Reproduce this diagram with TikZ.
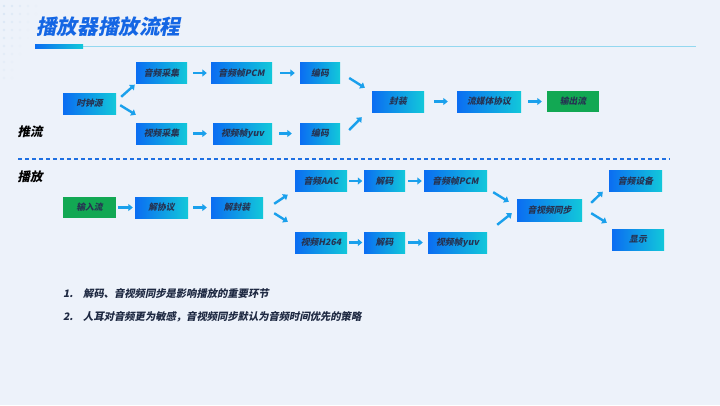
\documentclass[tikz,border=0pt]{standalone}
\usepackage{fontspec}
\setmainfont{Noto Sans CJK SC}[FakeSlant=0.2]
\usetikzlibrary{arrows.meta}
\definecolor{bg}{HTML}{EDF2FA}
\definecolor{bleft}{HTML}{0B6DF2}
\definecolor{bright}{HTML}{12C8DA}
\definecolor{gbox}{HTML}{12A853}
\definecolor{txt}{HTML}{263352}
\definecolor{titlec}{HTML}{1466E4}
\definecolor{arrc}{HTML}{1AA0EC}
\definecolor{dashc}{HTML}{1F70E2}
\definecolor{thinc}{HTML}{93D8F0}
\definecolor{dotc}{HTML}{D9E6F5}
\tikzset{
  box/.style={rectangle, minimum height=21pt, inner sep=0pt, left color=bleft, right color=bright, draw=none, text=txt, font=\bfseries\fontsize{8.8}{10}\selectfont},
  gbx/.style={rectangle, minimum height=21pt, inner sep=0pt, fill=gbox, draw=none, text=txt, font=\bfseries\fontsize{8.8}{10}\selectfont},
  arr/.style={draw=arrc, line width=2.4pt, -{Triangle[length=4.5pt,width=7pt]}},
  lbl/.style={font=\bfseries\fontsize{12.5}{14}\selectfont, text=black, inner sep=0pt},
  item/.style={font=\bfseries\fontsize{10.3}{12}\selectfont, text=txt!80!black, inner sep=0pt, anchor=west}
}
\begin{document}
\begin{tikzpicture}[x=1pt,y=-1pt]
\fill[bg] (0,0) rectangle (720,405);
\useasboundingbox (0,0) rectangle (720,405);
% faint dots
\foreach \i in {0,...,4}{\foreach \j in {0,...,9}{
  \pgfmathsetmacro\op{max(0,1-\i*0.22-\j*0.08)}
  \fill[dotc, opacity=\op] (4+\i*8,6+\j*8) circle (1.4);
}}
% title
\node[font=\bfseries\fontsize{20.6}{22}\selectfont, text=titlec, anchor=west, inner sep=0pt] (ttl) at (36,27) {播放器播放流程};
\fill[thinc] (83,45.8) rectangle (696,47.2);
\shade[left color=bleft, right color=bright] (35,44.5) rectangle (83,48);
% section labels
\node[lbl] (push) at (30,132) {推流};
\node[lbl] (play) at (30,177) {播放};
\draw[dashc, line width=1.2pt, dash pattern=on 4pt off 3pt] (18,159) -- (670,159);
% top row
\node[box, minimum width=53pt] (clk) at (89.5,103.5) {时钟源};
\node[box, minimum width=51pt] (acap) at (161.5,73) {音频采集};
\node[box, minimum width=61pt] (apcm) at (241.5,73) {音频帧PCM};
\node[box, minimum width=40pt] (enc1) at (320,73) {编码};
\node[box, minimum width=51pt] (vcap) at (161.5,133.5) {视频采集};
\node[box, minimum width=59pt] (vyuv) at (242.5,133.5) {视频帧yuv};
\node[box, minimum width=40pt] (enc2) at (320,133.5) {编码};
\node[box, minimum width=52pt] (mux) at (398,101.5) {封装};
\node[box, minimum width=64pt] (proto) at (489,101.5) {流媒体协议};
\node[gbx, minimum width=52pt] (out) at (573,101.5) {输出流};
\draw[arr] ([shift={(5,4)}]clk.north east) -- ([shift={(-1,1)}]acap.south west);
\draw[arr] ([shift={(4,-9)}]clk.south east) -- ([shift={(0,-8)}]vcap.north west);
\draw[arr, shorten <=6pt, shorten >=4pt] (acap) -- (apcm);
\draw[arr, shorten <=8pt, shorten >=5pt] (apcm) -- (enc1);
\draw[arr, shorten <=6pt, shorten >=6pt] (vcap) -- (vyuv);
\draw[arr, shorten <=7pt, shorten >=8pt] (vyuv) -- (enc2);
\draw[arr] ([shift={(9,5)}]enc1.east) -- ([shift={(-7,-3)}]mux.north west);
\draw[arr] ([shift={(9,-3.5)}]enc2.east) -- ([shift={(-10,5)}]mux.south west);
\draw[arr, shorten <=10pt, shorten >=9pt] (mux) -- (proto);
\draw[arr, shorten <=7pt, shorten >=5pt] (proto) -- (out);
% bottom row
\node[gbx, minimum width=53pt] (in) at (89.5,207.5) {输入流};
\node[box, minimum width=53pt] (dp) at (161.5,207.5) {解协议};
\node[box, minimum width=52pt] (demux) at (237,207.5) {解封装};
\node[box, minimum width=52pt] (aac) at (321,181) {音频AAC};
\node[box, minimum width=41pt] (dec1) at (384.5,181) {解码};
\node[box, minimum width=63pt] (apcm2) at (455.5,181) {音频帧PCM};
\node[box, minimum width=52pt] (h264) at (321,242.5) {视频H264};
\node[box, minimum width=41pt] (dec2) at (384.5,242.5) {解码};
\node[box, minimum width=59pt] (vyuv2) at (457.5,242.5) {视频帧yuv};
\node[box, minimum width=65pt, minimum height=22pt] (sync) at (549.5,210) {音视频同步};
\node[box, minimum width=53pt] (adev) at (635.5,181) {音频设备};
\node[box, minimum width=52pt] (disp) at (638,239.5) {显示};
\draw[arr, shorten <=2pt, shorten >=2pt] (in) -- (dp);
\draw[arr, shorten <=5pt, shorten >=4pt] (dp) -- (demux);
\draw[arr] ([shift={(11,7)}]demux.north east) -- ([shift={(-7,3)}]aac.south west);
\draw[arr] ([shift={(11,-5)}]demux.south east) -- ([shift={(-7,-10)}]h264.north west);
\draw[arr, shorten <=2pt, shorten >=1.5pt] (aac) -- (dec1);
\draw[arr, shorten <=3pt, shorten >=2pt] (dec1) -- (apcm2);
\draw[arr, shorten <=2pt, shorten >=1.5pt] (h264) -- (dec2);
\draw[arr, shorten <=3pt, shorten >=5pt] (dec2) -- (vyuv2);
\draw[arr] ([shift={(6,0.5)}]apcm2.south east) -- ([shift={(-8,3)}]sync.north west);
\draw[arr] ([shift={(10,-7)}]vyuv2.north east) -- ([shift={(-5,-8)}]sync.south west);
\draw[arr] ([shift={(9,4)}]sync.north east) -- ([shift={(-6,0)}]adev.south west);
\draw[arr] ([shift={(9,-8)}]sync.south east) -- ([shift={(-5,-6)}]disp.north west);
% notes
\node[item] (n1) at (63,294) {1.};
\node[item] (t1) at (83,294) {解码、音视频同步是影响播放的重要环节};
\node[item] (n2) at (63,317) {2.};
\node[item] (t2) at (83,317) {人耳对音频更为敏感，音视频同步默认为音频时间优先的策略};
\end{tikzpicture}
\end{document}
